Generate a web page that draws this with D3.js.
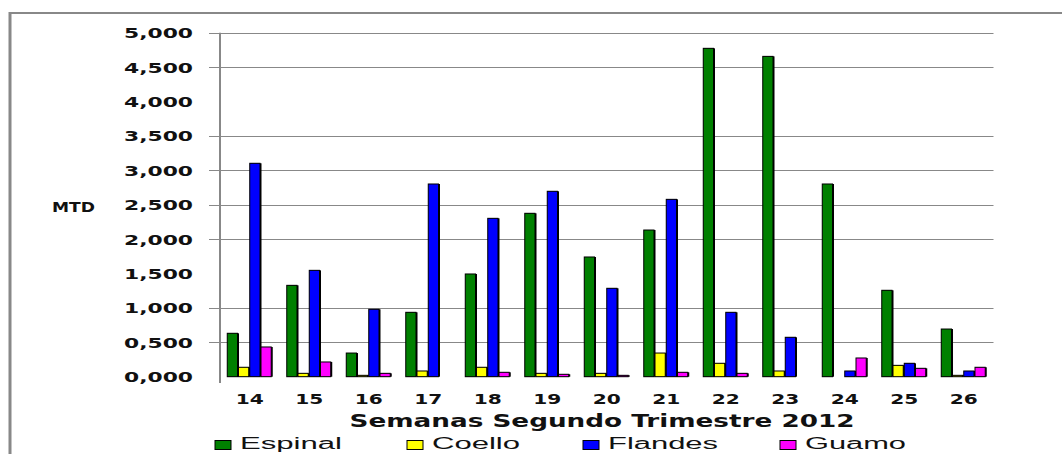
<!DOCTYPE html>
<html><head><meta charset="utf-8">
<script src="https://cdn.jsdelivr.net/npm/d3@7"></script>
<style>body{margin:0;background:#fff}svg{display:block}</style>
</head><body>
<svg id="c" width="1062" height="454"></svg>
<script>
const categories = ["14","15","16","17","18","19","20","21","22","23","24","25","26"];
const seriesNames = ["Espinal","Coello","Flandes","Guamo"];
const espinal = [631,1328,344,936,1493,2375,1740,2132,4773,4656,2801,1256,693];
const coello  = [137,49,20,83,137,49,49,344,195,83,0,165,20];
const flandes = [3102,1546,980,2801,2302,2695,1285,2578,936,573,83,195,83];
const guamo   = [432,214,49,0,64,35,20,64,49,0,272,122,137];
const seriesColors = ["#008000","#FFFF00","#0000FF","#FF00FF"];
const yTickValues = [0,500,1000,1500,2000,2500,3000,3500,4000,4500,5000];
const yTickLabels = ["0,000","0,500","1,000","1,500","2,000","2,500","3,000","3,500","4,000","4,500","5,000"];
const gridValues = [500,1000,2000,2500,3000,3500,4500,5000];
const yTitle = "MTD";
const xTitle = "Semanas Segundo Trimestre 2012";

const seriesData = [espinal, coello, flandes, guamo];
const svg = d3.select("#c");
const L = 220, R = 993.5, T = 32.7, B = 376.7;

const x0 = d3.scaleBand().domain(categories).range([L, R]).padding(0);
const x1 = d3.scaleBand().domain(seriesNames).range([0, x0.bandwidth()]).paddingInner(0).paddingOuter(0.645);
const y = d3.scaleLinear().domain([0, 5000]).range([B, T]);

// frame
svg.append("line").attr("x1",10).attr("x2",1062).attr("y1",13).attr("y2",13).attr("stroke","#888").attr("stroke-width",2);
svg.append("line").attr("x1",10).attr("x2",10).attr("y1",12).attr("y2",454).attr("stroke","#888").attr("stroke-width",3);

// gridlines
svg.append("g").selectAll("line").data(gridValues).join("line")
  .attr("x1", L - 11).attr("x2", R).attr("y1", d => Math.round(y(d)) + 0.5).attr("y2", d => Math.round(y(d)) + 0.5)
  .attr("stroke", "#888").attr("stroke-width", 1);

// y axis labels
svg.append("g").selectAll("text").data(yTickValues).join("text")
  .attr("x", 193).attr("y", d => y(d) + 0.5)
  .attr("text-anchor", "end").attr("dominant-baseline", "central")
  .attr("font-family", "DejaVu Sans").attr("font-weight", "bold").attr("font-size", 14.5)
  .attr("fill", "#111")
  .attr("textLength", 69).attr("lengthAdjust", "spacingAndGlyphs")
  .text((d, i) => yTickLabels[i]);

svg.append("text").attr("x", 52).attr("y", 207).attr("dominant-baseline","central")
  .attr("font-family","DejaVu Sans").attr("font-weight","bold").attr("font-size",14).attr("fill","#111")
  .attr("textLength", 43).attr("lengthAdjust","spacingAndGlyphs").text(yTitle);

// bars
const g = svg.append("g");
categories.forEach((c, ci) => {
  seriesNames.forEach((s, si) => {
    const v = seriesData[si][ci];
    if (v <= 0) return;
    const bx = x0(c) + x1(s);
    const bw = x1.bandwidth();
    g.append("rect").attr("x", bx + 0.5).attr("y", y(v)).attr("width", bw).attr("height", B - y(v))
      .attr("fill", "#000");
    g.append("rect").attr("x", bx).attr("y", y(v)).attr("width", bw - 1).attr("height", B - y(v))
      .attr("fill", seriesColors[si]).attr("stroke", "#000").attr("stroke-width", 1);
  });
});

// y axis line
svg.append("line").attr("x1", L).attr("x2", L).attr("y1", T).attr("y2", 383).attr("stroke","#888").attr("stroke-width",2);

// x labels
svg.append("g").selectAll("text").data(categories).join("text")
  .attr("x", d => x0(d) + x0.bandwidth()/2).attr("y", 398.5)
  .attr("text-anchor","middle").attr("dominant-baseline","central")
  .attr("font-family","DejaVu Sans").attr("font-weight","bold").attr("font-size",14).attr("fill","#111")
  .attr("textLength", 28).attr("lengthAdjust","spacingAndGlyphs")
  .text(d => d);

svg.append("text").attr("x", 602).attr("y", 420).attr("text-anchor","middle").attr("dominant-baseline","central")
  .attr("font-family","DejaVu Sans").attr("font-weight","bold").attr("font-size",18).attr("fill","#111")
  .attr("textLength", 505).attr("lengthAdjust","spacingAndGlyphs").text(xTitle);

// legend
const legX = [215, 407, 583, 780];
const legW = [102, 88, 110, 101];
const lg = svg.append("g");
seriesNames.forEach((s, i) => {
  lg.append("rect").attr("x", legX[i]).attr("y", 440.5).attr("width", 16).attr("height", 9)
    .attr("fill", seriesColors[i]).attr("stroke","#000").attr("stroke-width",1);
  lg.append("text").attr("x", legX[i] + 25).attr("y", 443).attr("dominant-baseline","central")
    .attr("font-family","Liberation Sans").attr("font-size",16).attr("fill","#111")
    .attr("textLength", legW[i]).attr("lengthAdjust","spacingAndGlyphs").text(s);
});
</script>
</body></html>
